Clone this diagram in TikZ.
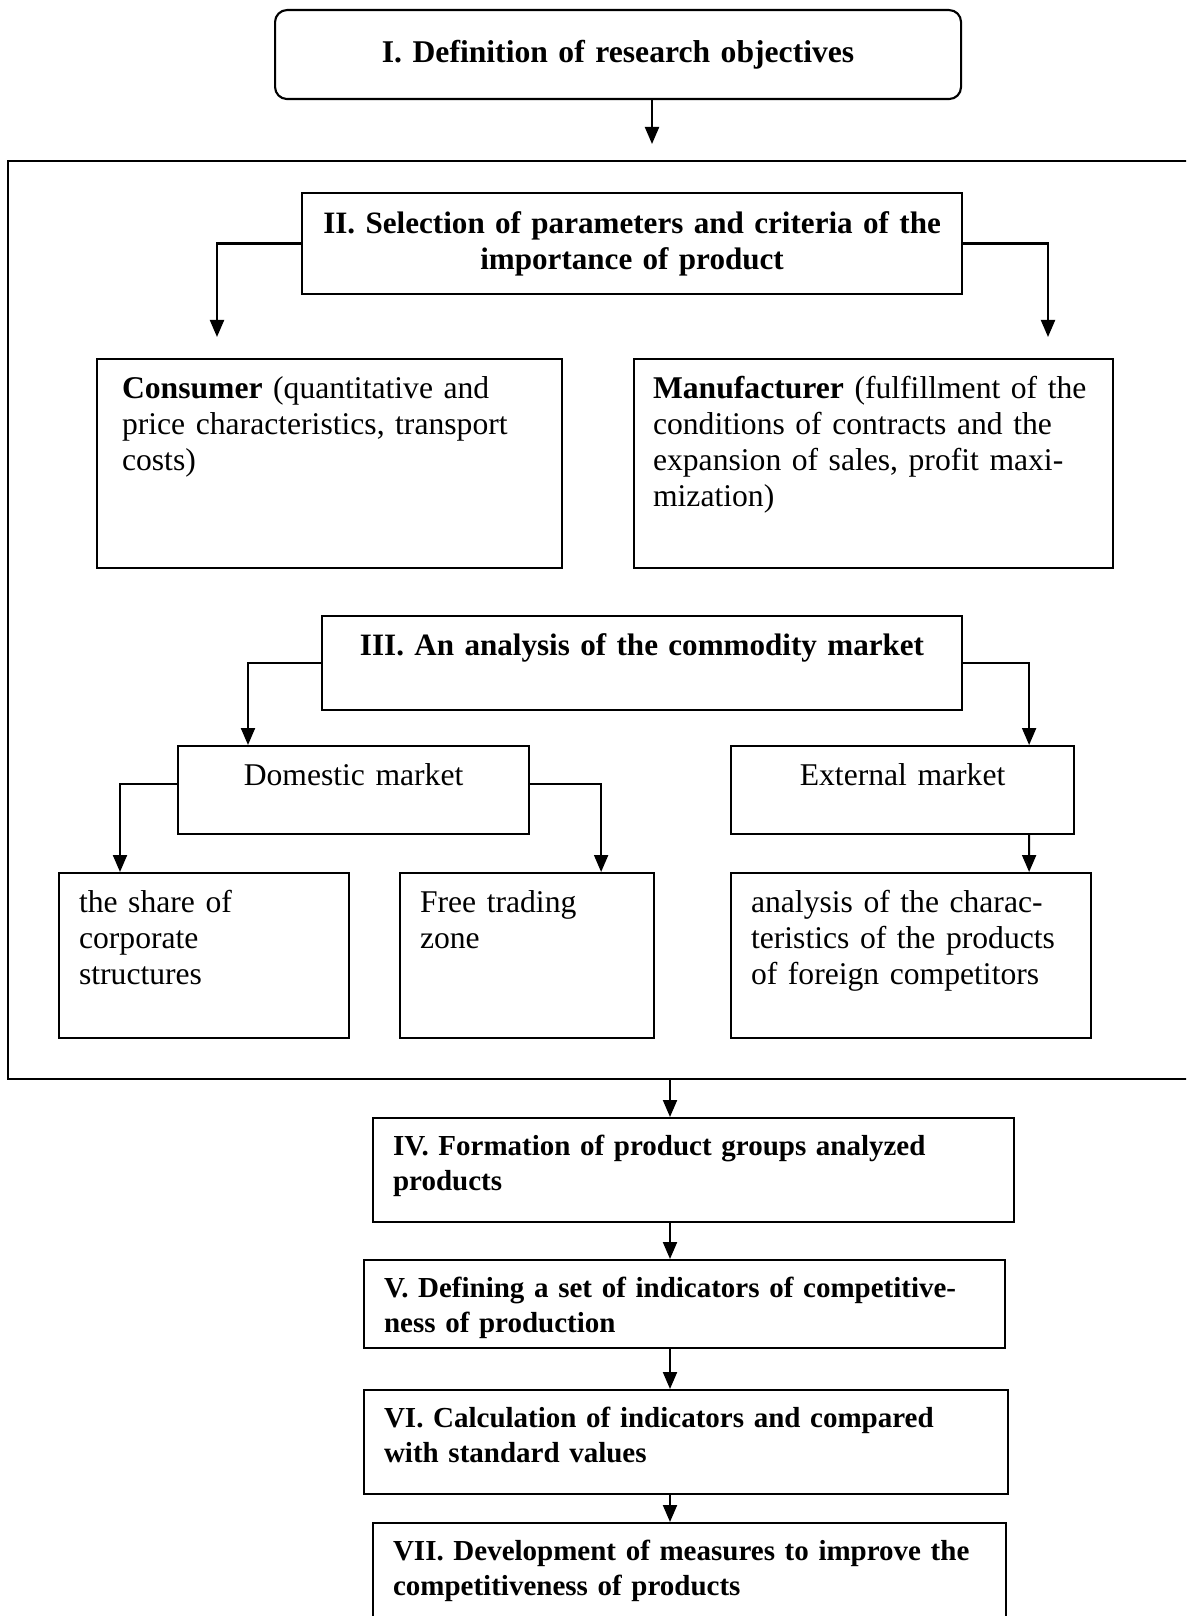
\documentclass[tikz,border=0pt]{standalone}
\usepackage{fontspec}
\setmainfont{Liberation Serif}
\usetikzlibrary{arrows.meta}

\begin{document}
\begin{tikzpicture}[x=0.1mm,y=-0.1mm,
 box/.style={draw,line width=.6pt,anchor=north west,align=left,font=\fontsize{9pt}{10.3pt}\selectfont,inner xsep=2mm,inner ysep=1mm},
 tbox/.style={box,text height=2.9mm,text depth=#1},
 strong/.style={font=\fontsize{8.85pt}{10.3pt}\selectfont\bfseries},
 lowbold/.style={font=\fontsize{8.25pt}{10pt}\selectfont\bfseries,text height=2.7mm},
 arr/.style={-{Triangle[length=1.7mm,width=1.4mm]},line width=.6pt}]
\useasboundingbox (0,0) rectangle (1186,1616);
\clip (0,0) rectangle (1186,1616);
\coordinate (in) at (652,144);
\coordinate (out) at (670,1079);
\coordinate (cl) at (217,337);
\coordinate (cr) at (1048,337);
\draw[line width=.6pt] (1200,161) -| (8,1079) -- (1200,1079);
\node[box,font=\fontsize{9pt}{10.3pt}\selectfont\bfseries,rounded corners=1.2mm,align=center,minimum width=68.6mm,minimum height=8.9mm,text width=64.6mm] (obj) at (274,9) {I. Definition of research objectives};
\node[box,strong,align=center,minimum width=66mm,minimum height=10.1mm,text width=64mm,inner xsep=1mm] (sel) at (301,192) {II. Selection of parameters and criteria of the\\importance of product};
\node[tbox=16mm,minimum width=46.5mm,text width=41.5mm,inner xsep=2.5mm] (cons) at (96,358) {\textbf{Consumer} (quantitative and\\price characteristics, transport\\costs)};
\node[tbox=16mm,minimum width=47.9mm,text width=44.1mm,inner xsep=1.9mm] (manu) at (633,358) {\textbf{Manufacturer} (fulfillment of the\\conditions of contracts and the\\expansion of sales, profit maxi-\\mization)};
\node[tbox=4.5mm,strong,align=center,minimum width=64mm,text width=62mm,inner xsep=1mm] (ana) at (321,615) {III. An analysis of the commodity market};
\node[tbox=3.9mm,align=center,minimum width=35.1mm,text width=31.1mm] (dom) at (177,745) {Domestic market};
\node[tbox=3.9mm,align=center,minimum width=34.3mm,text width=30.3mm] (ext) at (730,745) {External market};
\node[tbox=11.6mm,minimum width=29mm,text width=25mm] (share) at (58,872) {the share of\\corporate\\structures};
\node[tbox=11.6mm,minimum width=25.4mm,text width=21.4mm] (free) at (399,872) {Free trading\\zone};
\node[tbox=11.6mm,minimum width=36mm,text width=32mm] (comp) at (730,872) {analysis of the charac-\\teristics of the products\\of foreign competitors};
\node[tbox=5.7mm,lowbold,minimum width=64.1mm,text width=60.1mm] (form) at (372,1117) {IV. Formation of product groups analyzed\\products};
\node[tbox=4.1mm,lowbold,minimum width=64.1mm,text width=60.1mm] (ind) at (363,1259) {V. Defining a set of indicators of competitive-\\ness of production};
\node[tbox=5.7mm,lowbold,minimum width=64.4mm,text width=60.4mm] (calc) at (363,1389) {VI. Calculation of indicators and compared\\with standard values};
\node[tbox=6.3mm,lowbold,minimum width=63.3mm,text width=59.3mm] (meas) at (372,1522) {VII. Development of measures to improve the\\competitiveness of products};
\draw[arr] (in |- obj.south) -- (in);
\draw[arr] (sel.west) -| (cl);
\draw[arr] (sel.east) -| (cr);
\draw[arr] (ana.west) -| ([xshift=7.1mm]dom.north west);
\draw[arr] (ana.east) -| ([xshift=-4.6mm]ext.north east);
\draw[arr] ([yshift=.6mm]dom.west) -| ([xshift=6.2mm]share.north west);
\draw[arr] ([yshift=.6mm]dom.east) -| ([xshift=-5.4mm]free.north east);
\draw[arr] ([xshift=-4.6mm]ext.south east) -- ([xshift=-6.3mm]comp.north east);
\draw[arr] (out) -- (out |- form.north);
\draw[arr] (out |- form.south) -- (out |- ind.north);
\draw[arr] (out |- ind.south) -- (out |- calc.north);
\draw[arr] (out |- calc.south) -- (out |- meas.north);
\end{tikzpicture}
\end{document}
